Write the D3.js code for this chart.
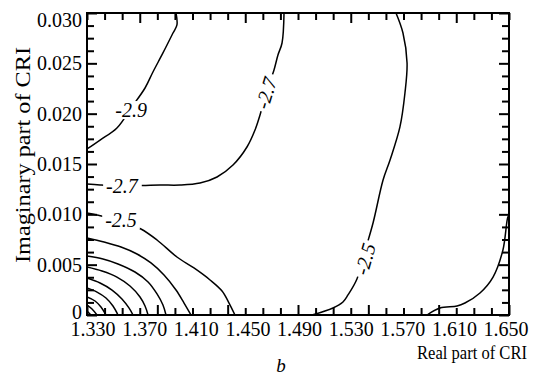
<!DOCTYPE html>
<html>
<head>
<meta charset="utf-8">
<script src="https://cdn.jsdelivr.net/npm/d3@7"></script>
<style>
  body { margin: 0; background: #fff; }
  svg { display: block; font-family: "Liberation Serif", "Times New Roman", serif; }
</style>
</head>
<body>
<svg id="chart" width="536" height="376"></svg>
<script>
// axis ranges and tick labels
const xDomain = [1.33, 1.65];
const yDomain = [0, 0.030];
const xTickLabels = ["1.330", "1.370", "1.410", "1.450", "1.490", "1.530", "1.570", "1.610", "1.650"];
const yTickLabels = ["0", "0.005", "0.010", "0.015", "0.020", "0.025", "0.030"];

// contour lines as [real, imaginary]
const contour29 = [[1.3300, 0.01649], [1.3399, 0.01738], [1.3527, 0.01858], [1.3634, 0.02056], [1.3740, 0.02255],
  [1.3800, 0.02414], [1.3876, 0.02603], [1.3952, 0.02801], [1.3982, 0.02881], [1.3975, 0.0300]];
const contour27 = [[1.4794, 0.0300], [1.4779, 0.02702], [1.4748, 0.02583], [1.4718, 0.02434], [1.4657, 0.02205],
  [1.4612, 0.01987], [1.4574, 0.01838], [1.4513, 0.01669], [1.4407, 0.01490], [1.4286, 0.01371], [1.4157, 0.01311],
  [1.4005, 0.01291], [1.3854, 0.01291], [1.3702, 0.01286], [1.3565, 0.01281], [1.3399, 0.01291], [1.3300, 0.01301]];
const contour25left = [[1.3300, 0.01013], [1.3376, 0.00993], [1.3558, 0.00934], [1.3709, 0.00854], [1.3831, 0.00745],
  [1.3982, 0.00576], [1.4111, 0.00467], [1.4233, 0.00348], [1.4324, 0.00238], [1.4377, 0.00119], [1.4422, 0]];
const contour25right = [[1.5643, 0.0300], [1.5696, 0.02801], [1.5727, 0.02503], [1.5711, 0.02205], [1.5673, 0.01868],
  [1.5598, 0.01540], [1.5545, 0.01341], [1.5469, 0.00914], [1.5408, 0.00636], [1.5347, 0.00358], [1.5279, 0.00199],
  [1.5241, 0.00129], [1.5165, 0.00070], [1.5006, 0]];
const contour23 = [[1.5878, 0], [1.5977, 0.00070], [1.6106, 0.00089], [1.6166, 0.00119], [1.6280, 0.00219],
  [1.6379, 0.00377], [1.6454, 0.00646], [1.6492, 0.00974], [1.6500, 0.00984]];
const cornerContours = [
  [[1.3300, 0.00765], [1.3429, 0.00725], [1.3558, 0.00675], [1.3679, 0.00606], [1.3785, 0.00517], [1.3884, 0.00397], [1.3975, 0.00248], [1.4036, 0.00119], [1.4089, 0]],
  [[1.3300, 0.00586], [1.3421, 0.00556], [1.3535, 0.00507], [1.3664, 0.00427], [1.3763, 0.00328], [1.3831, 0.00209], [1.3876, 0.00099], [1.3899, 0]],
  [[1.3300, 0.00477], [1.3414, 0.00437], [1.3527, 0.00377], [1.3626, 0.00288], [1.3702, 0.00179], [1.3740, 0.00089], [1.3763, 0]],
  [[1.3300, 0.00368], [1.3399, 0.00318], [1.3490, 0.00248], [1.3565, 0.00159], [1.3618, 0.00070], [1.3649, 0]],
  [[1.3300, 0.00268], [1.3376, 0.00228], [1.3444, 0.00169], [1.3497, 0.00089], [1.3535, 0]],
  [[1.3300, 0.00179], [1.3361, 0.00139], [1.3406, 0.00079], [1.3444, 0]],
  [[1.3300, 0.00099], [1.3338, 0.00060], [1.3376, 0]],
  [[1.3300, 0.00040], [1.3330, 0]]
];

// contour value labels and where they sit
const labelText = ["-2.9", "-2.7", "-2.7", "-2.5", "-2.5"];
const labelX = [1.3634, 1.4657, 1.3565, 1.3558, 1.5408];
const labelY = [0.02036, 0.02205, 0.01281, 0.00944, 0.00556];

const svg = d3.select("#chart");
const pLeft = 87, pRight = 509, pTop = 13, pBottom = 315;

const x = d3.scaleLinear().domain(xDomain).range([pLeft, pRight]);
const y = d3.scaleLinear().domain(yDomain).range([pBottom, pTop]);
// the printed x labels are spread slightly differently from the ticks
const xLab = d3.scaleLinear().domain(xDomain).range([pLeft + 6, pRight - 3]);

const xTicks = d3.range(25).map(i => xDomain[0] + i * (xDomain[1] - xDomain[0]) / 24);
const yTicks = d3.range(25).map(i => yDomain[0] + i * (yDomain[1] - yDomain[0]) / 24);

svg.append("defs").append("clipPath").attr("id", "plot")
  .append("rect").attr("x", pLeft).attr("y", pTop).attr("width", pRight - pLeft).attr("height", pBottom - pTop);

// contour lines
const line = d3.line().x(d => x(d[0])).y(d => y(d[1])).curve(d3.curveCatmullRom.alpha(0.5));
const allLines = [contour29, contour27, contour25left, contour25right, contour23, ...cornerContours];
svg.append("g").attr("clip-path", "url(#plot)")
  .selectAll("path").data(allLines).enter().append("path")
  .attr("d", line)
  .attr("fill", "none")
  .attr("stroke", "#000")
  .attr("stroke-width", 1.5);

// labels with a white patch that breaks the line
const labelAngle = [0, -73, 0, 0, -74];
const lab = svg.append("g").selectAll("g").data(labelText).enter().append("g")
  .attr("transform", (d, i) => "translate(" + x(labelX[i]) + "," + y(labelY[i]) + ") rotate(" + labelAngle[i] + ")");
lab.append("rect").attr("fill", "#fff");
lab.append("text")
  .attr("text-anchor", "middle")
  .attr("dy", "0.35em")
  .attr("font-size", 20)
  .attr("font-style", "italic")
  .text(d => d);
lab.each(function () {
  const b = d3.select(this).select("text").node().getBBox();
  d3.select(this).select("rect")
    .attr("x", b.x - 3).attr("y", b.y + 2).attr("width", b.width + 6).attr("height", b.height - 4);
});

// inward ticks on all four sides
function styleTicks(g) {
  g.select(".domain").remove();
  g.selectAll(".tick line").attr("stroke", "#000").attr("stroke-width", 2);
}
svg.append("g").attr("transform", "translate(0," + pBottom + ")")
  .call(d3.axisBottom(x).tickValues(xTicks).tickSize(-7).tickFormat(""))
  .call(styleTicks)
  .selectAll(".tick line").attr("y2", (d, i) => i % 4 === 0 ? -10 : -7);
svg.append("g").attr("transform", "translate(0," + pTop + ")")
  .call(d3.axisTop(x).tickValues(xTicks).tickSize(-7).tickFormat(""))
  .call(styleTicks)
  .selectAll(".tick line").attr("y2", (d, i) => i % 6 === 3 ? 10 : 7);
svg.append("g").attr("transform", "translate(" + pLeft + ",0)")
  .call(d3.axisLeft(y).tickValues(yTicks).tickSize(-7).tickFormat(""))
  .call(styleTicks)
  .selectAll(".tick line").attr("x2", (d, i) => i % 4 === 0 ? 10 : 7);
svg.append("g").attr("transform", "translate(" + pRight + ",0)")
  .call(d3.axisRight(y).tickValues(yTicks).tickSize(-7).tickFormat(""))
  .call(styleTicks)
  .selectAll(".tick line").attr("x2", (d, i) => i % 4 === 0 ? -10 : -7);

svg.append("rect")
  .attr("x", pLeft).attr("y", pTop).attr("width", pRight - pLeft).attr("height", pBottom - pTop)
  .attr("fill", "none").attr("stroke", "#000").attr("stroke-width", 2);

// tick labels
svg.append("g").selectAll("text").data(xTickLabels).enter().append("text")
  .attr("x", d => xLab(+d))
  .attr("y", 336)
  .attr("text-anchor", "middle")
  .attr("font-size", 20)
  .text(d => d);
svg.append("g").selectAll("text").data(yTickLabels).enter().append("text")
  .attr("x", pLeft - 5)
  .attr("y", d => y(+d))
  .attr("dy", (d, i) => i === yTickLabels.length - 1 ? "0.7em" : (i === 0 ? "0.2em" : "0.35em"))
  .attr("text-anchor", "end")
  .attr("font-size", 20)
  .text(d => d);

// axis titles
svg.append("text")
  .attr("x", 417).attr("y", 359)
  .attr("font-size", 18)
  .attr("textLength", 110).attr("lengthAdjust", "spacingAndGlyphs")
  .text("Real part of CRI");
svg.append("text")
  .attr("transform", "translate(30,155) rotate(-90)")
  .attr("text-anchor", "middle")
  .attr("font-size", 21)
  .attr("textLength", 216).attr("lengthAdjust", "spacingAndGlyphs")
  .text("Imaginary part of CRI");
svg.append("text")
  .attr("x", 281).attr("y", 372)
  .attr("text-anchor", "middle")
  .attr("font-size", 19)
  .attr("font-style", "italic")
  .text("b");
</script>
</body>
</html>
